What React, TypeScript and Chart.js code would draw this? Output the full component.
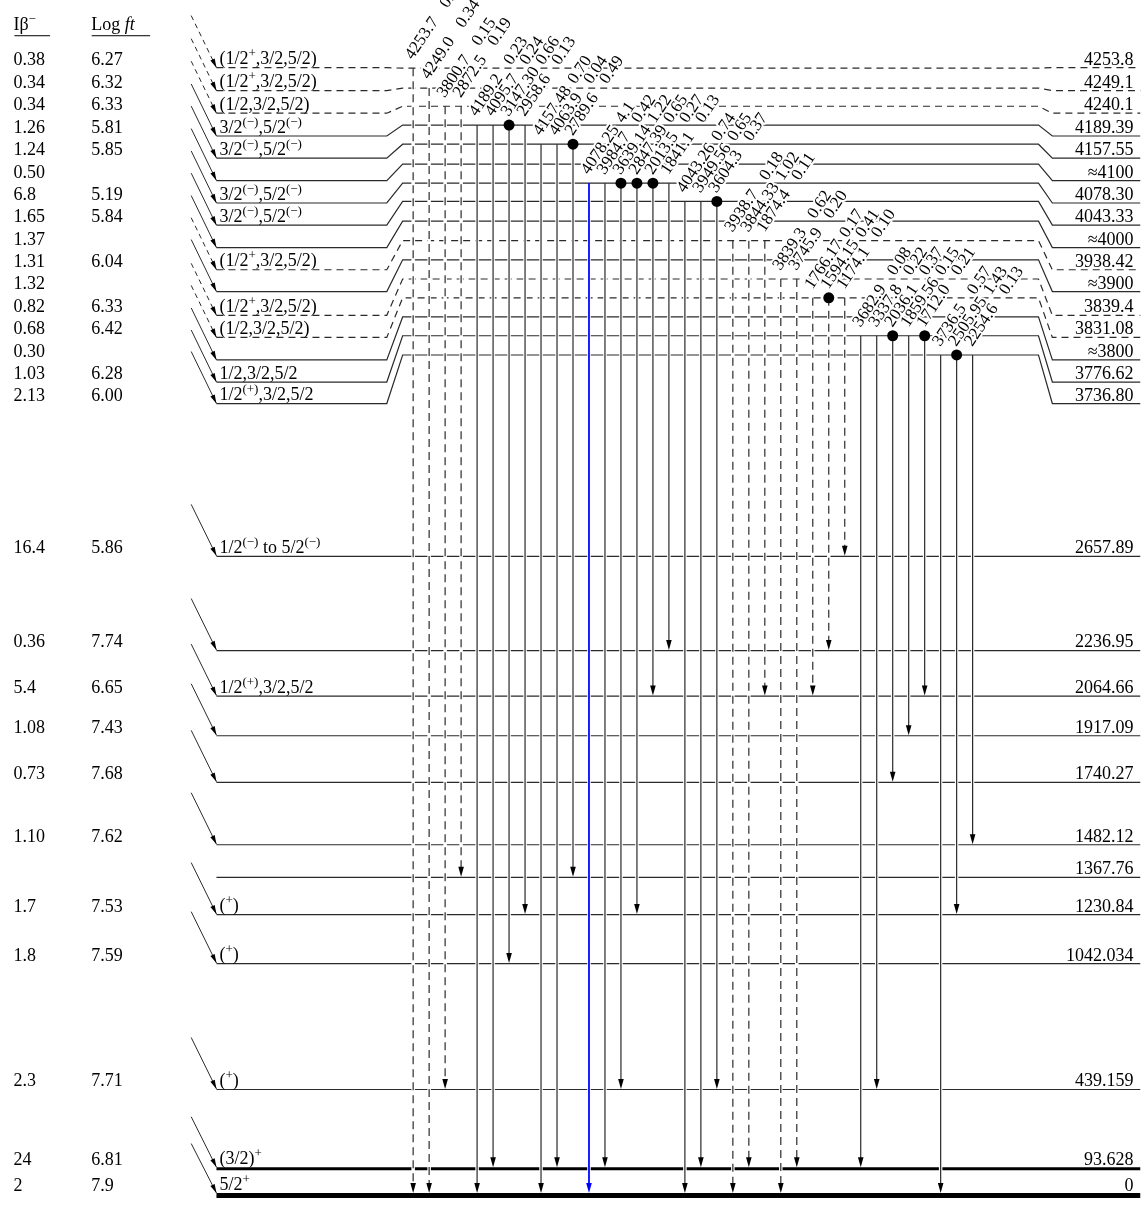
import React, { useEffect, useRef } from "react";
import { Chart, registerables } from "chart.js";

Chart.register(...registerables);

// ---------------- data ----------------
// upper (closely spaced) levels, top to bottom
const upperEnergies = ["4253.8", "4249.1", "4240.1", "4189.39", "4157.55", "≈4100", "4078.30", "4043.33", "≈4000", "3938.42", "≈3900", "3839.4", "3831.08", "≈3800", "3776.62", "3736.80"];
const upperIbeta = ["0.38", "0.34", "0.34", "1.26", "1.24", "0.50", "6.8", "1.65", "1.37", "1.31", "1.32", "0.82", "0.68", "0.30", "1.03", "2.13"];
const upperLogft = ["6.27", "6.32", "6.33", "5.81", "5.85", "", "5.19", "5.84", "", "6.04", "", "6.33", "6.42", "", "6.28", "6.00"];
const upperSpin = ["(1/2^{+},3/2,5/2)", "(1/2^{+},3/2,5/2)", "(1/2,3/2,5/2)", "3/2^{(−)},5/2^{(−)}", "3/2^{(−)},5/2^{(−)}", "", "3/2^{(−)},5/2^{(−)}", "3/2^{(−)},5/2^{(−)}", "", "(1/2^{+},3/2,5/2)", "", "(1/2^{+},3/2,5/2)", "(1/2,3/2,5/2)", "", "1/2,3/2,5/2", "1/2^{(+)},3/2,5/2"];
const upperTentative = [true, true, true, false, false, false, false, false, false, true, false, true, true, false, false, false];

// lower levels, top to bottom
const lowerEnergies = ["2657.89", "2236.95", "2064.66", "1917.09", "1740.27", "1482.12", "1367.76", "1230.84", "1042.034", "439.159", "93.628", "0"];
const lowerIbeta = ["16.4", "0.36", "5.4", "1.08", "0.73", "1.10", "", "1.7", "1.8", "2.3", "24", "2"];
const lowerLogft = ["5.86", "7.74", "6.65", "7.43", "7.68", "7.62", "", "7.53", "7.59", "7.71", "6.81", "7.9"];
const lowerSpin = ["1/2^{(−)} to 5/2^{(−)}", "", "1/2^{(+)},3/2,5/2", "", "", "", "", "(^{+})", "(^{+})", "(^{+})", "(3/2)^{+}", "5/2^{+}"];
const lowerFed = [true, true, true, true, true, true, false, true, true, true, true, true];

// gamma transitions (left to right)
const gammaEnergy = ["4253.7", "4249.0", "3800.7", "2872.5", "4189.2", "4095.7", "3147.30", "2958.6", "4157.48", "4063.9", "2789.6", "4078.25", "3984.7", "3639.14", "2847.39", "2013.5", "1841.1", "4043.26", "3949.56", "3604.3", "3938.7", "3844.33", "1874.4", "3839.3", "3745.9", "1766.17", "1594.15", "1174.1", "3682.9", "3337.8", "2036.1", "1859.56", "1712.0", "3736.5", "2505.95", "2254.6"];
const gammaIntensity = ["0.38", "0.34", "0.15", "0.19", "0.23", "0.24", "0.66", "0.13", "0.70", "0.04", "0.49", "4.1", "0.42", "1.22", "0.65", "0.27", "0.13", "0.74", "0.65", "0.37", "0.18", "1.02", "0.11", "0.62", "0.20", "0.17", "0.41", "0.10", "0.08", "0.22", "0.37", "0.15", "0.21", "0.57", "1.43", "0.13"];
const gammaFrom = ["4253.8", "4249.1", "4240.1", "4240.1", "4189.39", "4189.39", "4189.39", "4189.39", "4157.55", "4157.55", "4157.55", "4078.30", "4078.30", "4078.30", "4078.30", "4078.30", "4078.30", "4043.33", "4043.33", "4043.33", "3938.42", "3938.42", "3938.42", "3839.4", "3839.4", "3831.08", "3831.08", "3831.08", "3776.62", "3776.62", "3776.62", "3776.62", "3776.62", "3736.80", "3736.80", "3736.80"];
const gammaTo = ["0", "0", "439.159", "1367.76", "0", "93.628", "1042.034", "1230.84", "0", "93.628", "1367.76", "0", "93.628", "439.159", "1230.84", "2064.66", "2236.95", "0", "93.628", "439.159", "0", "93.628", "2064.66", "0", "93.628", "2064.66", "2236.95", "2657.89", "93.628", "439.159", "1740.27", "1917.09", "2064.66", "0", "1230.84", "1482.12"];
const gammaCoincidence = ["3147.30", "2789.6", "3639.14", "2847.39", "2013.5", "3604.3", "1594.15", "2036.1", "1712.0", "2505.95"];
const gammaHighlighted = ["4078.25"];

// ---------------- layout (drawing slots, not data) ----------------
const upperLeftY = [62.7, 86, 108.7, 131.7, 154, 176.7, 199.3, 221.7, 244.3, 266.7, 288.7, 312.7, 335, 357.7, 380, 401.7];
const upperMidY = [63.3, 83.3, 101.7, 120.7, 140, 160, 179.3, 197.7, 217.7, 237.3, 256.7, 276, 295, 314.3, 333.3, 352.7];
const lowerY = [556, 651, 697, 737, 784, 847, 880, 917.5, 967, 1094, 1174, 1201];
const lowerWidth = [1.2, 1.2, 1.2, 1.2, 1.2, 1.2, 1.2, 1.2, 1.2, 1.2, 3, 5];
const W = 1146, H = 1205;
const X_LEVEL_START = 213, X_KINK1A = 385, X_KINK1B = 401, X_KINK2A = 1043, X_KINK2B = 1057;
const X_BETA_START = 187.5, BETA_DY = 52.5;
const GAMMA_X0 = 411.6, GAMMA_DX = 16.14;
const X_IB = 8, X_LOGFT = 86.5, X_SPIN = 216, X_ENERGY = 1139;
const TEXT_SIZE = 18, SUP_SIZE = 13, SUP_RAISE = 7, GAMMA_SIZE = 17, GAMMA_INT_OFFSET = 62;

const FONT = '"Liberation Serif", "Times New Roman", "DejaVu Serif", serif';
const LINE = "#2a2a2a";

function parseRich(s: string) {
  const out: { t: string; sup: boolean }[] = [];
  let i = 0;
  while (i < s.length) {
    const j = s.indexOf("^{", i);
    if (j < 0) { out.push({ t: s.slice(i), sup: false }); break; }
    if (j > i) out.push({ t: s.slice(i, j), sup: false });
    const k = s.indexOf("}", j);
    out.push({ t: s.slice(j + 2, k), sup: true });
    i = k + 1;
  }
  return out;
}

function drawRich(ctx: CanvasRenderingContext2D, s: string, x: number, y: number, size: number, supSize: number, raise: number) {
  let cx = x;
  for (const seg of parseRich(s)) {
    ctx.font = `${seg.sup ? supSize : size}px ${FONT}`;
    ctx.fillText(seg.t, cx, seg.sup ? y - raise : y);
    cx += ctx.measureText(seg.t).width;
  }
}

function levelYByEnergy(e: string) {
  const u = upperEnergies.indexOf(e);
  if (u >= 0) return { y: upperMidY[u], w: 1.2 };
  const l = lowerEnergies.indexOf(e);
  return { y: lowerY[l], w: lowerWidth[l] };
}

function lineDs(points: { x: number; y: number }[], color: string, width: number, dash: number[], order: number) {
  return {
    data: points,
    showLine: true,
    borderColor: color,
    borderWidth: width,
    borderDash: dash,
    pointRadius: 0,
    fill: false,
    tension: 0,
    order,
  };
}

export default function App() {
  const ref = useRef<HTMLCanvasElement | null>(null);

  useEffect(() => {
    if (!ref.current) return;
    const datasets: any[] = [];

    // upper levels
    upperEnergies.forEach((_, i) => {
      const yl = upperLeftY[i], ym = upperMidY[i];
      const dash = upperTentative[i] ? [7, 5] : [];
      datasets.push(lineDs([
        { x: X_LEVEL_START, y: yl }, { x: X_KINK1A, y: yl }, { x: X_KINK1B, y: ym },
        { x: X_KINK2A, y: ym }, { x: X_KINK2B, y: yl }, { x: W, y: yl },
      ], LINE, 1.2, dash, 6));
      datasets.push(lineDs([{ x: X_BETA_START, y: yl - BETA_DY }, { x: X_LEVEL_START, y: yl }], LINE, 1, upperTentative[i] ? [5, 4] : [], 6));
    });
    // lower levels
    lowerEnergies.forEach((_, i) => {
      const y = lowerY[i];
      datasets.push(lineDs([{ x: X_LEVEL_START, y }, { x: W, y }], lowerWidth[i] > 2 ? "#000" : LINE, lowerWidth[i], [], 6));
      if (lowerFed[i]) datasets.push(lineDs([{ x: X_BETA_START, y: y - BETA_DY }, { x: X_LEVEL_START, y: y - lowerWidth[i] / 2 }], LINE, 1, [], 6));
    });
    // gammas
    const dots: { x: number; y: number }[] = [];
    gammaEnergy.forEach((e, i) => {
      const x = GAMMA_X0 + GAMMA_DX * i;
      const top = levelYByEnergy(gammaFrom[i]).y;
      const tgt = levelYByEnergy(gammaTo[i]);
      const tip = tgt.y - tgt.w / 2;
      const dashed = upperTentative[upperEnergies.indexOf(gammaFrom[i])];
      const color = gammaHighlighted.includes(e) ? "#0000ff" : LINE;
      datasets.push(lineDs([{ x, y: top + 3 }, { x, y: tip - 4 }], "#ffffff", 3.5, [], 5));
      datasets.push(lineDs([{ x, y: top }, { x, y: tip - 8 }], color, gammaHighlighted.includes(e) ? 1 : 1.2, dashed ? [8, 5] : [], 4));
      if (gammaCoincidence.includes(e)) dots.push({ x, y: top });
    });
    datasets.push({ data: dots, showLine: false, pointRadius: 5.5, pointBackgroundColor: "#000", pointBorderWidth: 0, order: 1 });

    const scheme = {
      id: "scheme",
      afterDatasetsDraw(chart: any) {
        const ctx: CanvasRenderingContext2D = chart.ctx;
        const xs = chart.scales.x, ys = chart.scales.y;
        const px = (v: number) => xs.getPixelForValue(v);
        const py = (v: number) => ys.getPixelForValue(v);
        ctx.save();

        const arrowHead = (x1: number, y1: number, x2: number, y2: number, len: number, half: number, color: string) => {
          const a = Math.atan2(y2 - y1, x2 - x1);
          ctx.fillStyle = color;
          ctx.beginPath();
          ctx.moveTo(x2, y2);
          ctx.lineTo(x2 - len * Math.cos(a) + half * Math.sin(a), y2 - len * Math.sin(a) - half * Math.cos(a));
          ctx.lineTo(x2 - len * Math.cos(a) - half * Math.sin(a), y2 - len * Math.sin(a) + half * Math.cos(a));
          ctx.closePath();
          ctx.fill();
        };

        // gamma arrowheads
        gammaEnergy.forEach((e, i) => {
          const x = px(GAMMA_X0 + GAMMA_DX * i);
          const tgt = levelYByEnergy(gammaTo[i]);
          const tip = py(tgt.y - tgt.w / 2);
          arrowHead(x, tip - 20, x, tip, 10, 2.8, gammaHighlighted.includes(e) ? "#0000ff" : "#000");
        });
        // beta arrowheads
        upperEnergies.forEach((_, i) => {
          const yl = upperLeftY[i];
          arrowHead(px(X_BETA_START), py(yl - BETA_DY), px(X_LEVEL_START), py(yl), 9, 2.4, "#000");
        });
        lowerEnergies.forEach((_, i) => {
          if (!lowerFed[i]) return;
          const y = lowerY[i] - lowerWidth[i] / 2;
          arrowHead(px(X_BETA_START), py(y - BETA_DY), px(X_LEVEL_START), py(y), 9, 2.4, "#000");
        });

        // gamma labels (knock-out first, then fill)
        const ang = (-56 * Math.PI) / 180;
        ctx.font = `${GAMMA_SIZE}px ${FONT}`;
        ctx.textBaseline = "middle";
        ctx.textAlign = "left";
        for (const pass of [0, 1]) {
          gammaEnergy.forEach((e, i) => {
            const x = px(GAMMA_X0 + GAMMA_DX * i) - 4;
            const y = py(levelYByEnergy(gammaFrom[i]).y) - 10.5;
            ctx.save();
            ctx.translate(x, y);
            ctx.rotate(ang);
            if (pass === 0) {
              ctx.strokeStyle = "#fff";
              ctx.lineWidth = 4;
              ctx.lineJoin = "round";
              ctx.strokeText(e, 0, 0);
              ctx.strokeText(gammaIntensity[i], GAMMA_INT_OFFSET, 0);
            } else {
              ctx.fillStyle = "#000";
              ctx.fillText(e, 0, 0);
              ctx.fillText(gammaIntensity[i], GAMMA_INT_OFFSET, 0);
            }
            ctx.restore();
          });
        }

        // header
        ctx.textBaseline = "alphabetic";
        ctx.fillStyle = "#000";
        drawRich(ctx, "Iβ^{−}", px(X_IB), py(25), TEXT_SIZE, SUP_SIZE, SUP_RAISE);
        ctx.font = `${TEXT_SIZE}px ${FONT}`;
        ctx.fillText("Log ", px(X_LOGFT), py(25));
        const lw = ctx.measureText("Log ").width;
        ctx.font = `italic ${TEXT_SIZE}px ${FONT}`;
        ctx.fillText("ft", px(X_LOGFT) + lw, py(25));
        ctx.strokeStyle = "#000";
        ctx.lineWidth = 1;
        ctx.beginPath();
        ctx.moveTo(px(9), py(30.5)); ctx.lineTo(px(45), py(30.5));
        ctx.moveTo(px(87), py(30.5)); ctx.lineTo(px(146), py(30.5));
        ctx.stroke();

        // level texts
        const rowText = (ib: string, lf: string, spin: string, energy: string, y: number, off: number) => {
          ctx.font = `${TEXT_SIZE}px ${FONT}`;
          ctx.textAlign = "left";
          ctx.fillText(ib, px(X_IB), py(y - off));
          ctx.fillText(lf, px(X_LOGFT), py(y - off));
          if (spin) drawRich(ctx, spin, px(X_SPIN), py(y - off - 0.5), TEXT_SIZE, SUP_SIZE, SUP_RAISE);
          ctx.font = `${TEXT_SIZE}px ${FONT}`;
          ctx.textAlign = "right";
          ctx.fillText(energy, px(X_ENERGY), py(y - off));
          ctx.textAlign = "left";
        };
        upperEnergies.forEach((e, i) => rowText(upperIbeta[i], upperLogft[i], upperSpin[i], e, upperLeftY[i], 3));
        lowerEnergies.forEach((e, i) => rowText(lowerIbeta[i], lowerLogft[i], lowerSpin[i], e, lowerY[i], 2.5 + lowerWidth[i] / 2));

        ctx.restore();
      },
    };

    const chart = new Chart(ref.current, {
      type: "scatter",
      data: { datasets },
      options: {
        animation: false,
        responsive: false,
        events: [],
        layout: { padding: 0 },
        plugins: { legend: { display: false }, tooltip: { enabled: false } },
        scales: {
          x: { type: "linear", min: 0, max: W, display: false },
          y: { type: "linear", min: 0, max: H, reverse: true, display: false },
        },
      },
      plugins: [scheme],
    } as any);
    return () => chart.destroy();
  }, []);

  return (
    <div style={{ position: "absolute", left: 0, top: 0, width: W, height: H, background: "#fff" }}>
      <canvas ref={ref} width={W} height={H} style={{ display: "block", width: W, height: H }} />
    </div>
  );
}
